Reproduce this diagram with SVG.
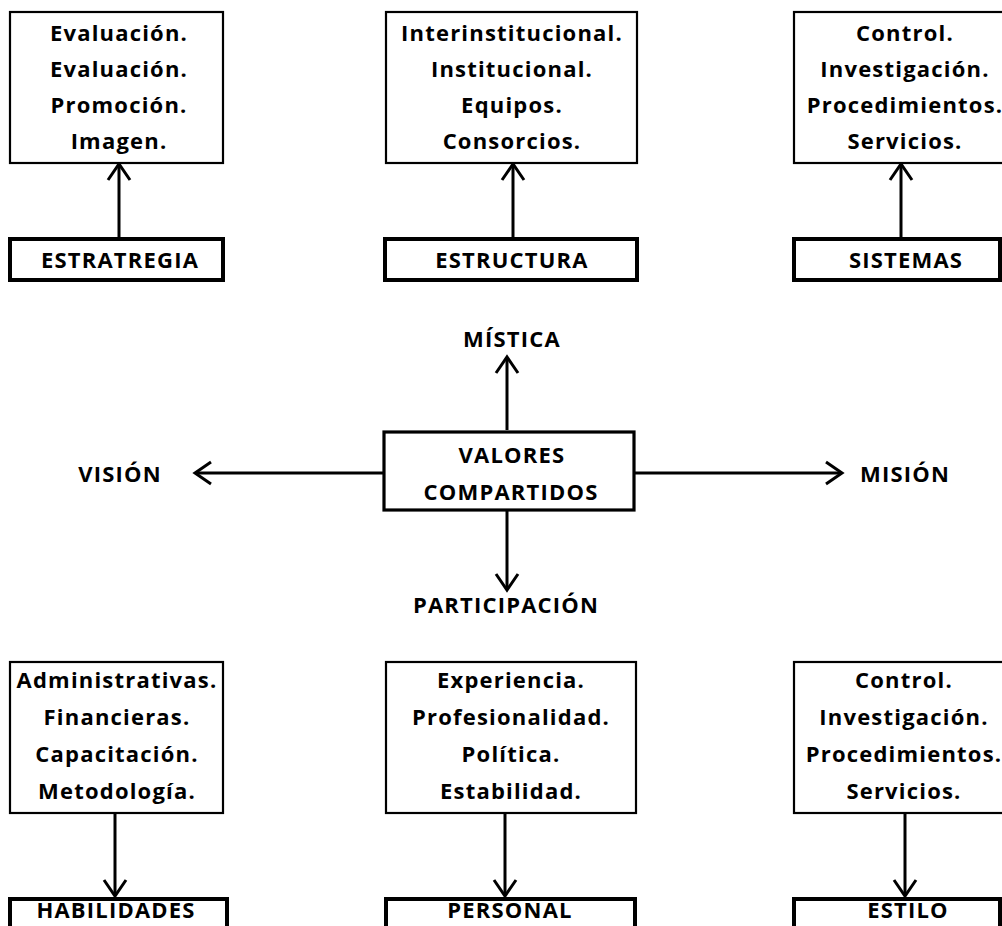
<svg xmlns="http://www.w3.org/2000/svg" width="1002" height="926" viewBox="0 0 1002 926">
<defs>
<style>
text{font-family:"Open Sans","Liberation Sans",sans-serif;font-weight:700;font-size:22px;letter-spacing:1.2px;fill:#000;text-anchor:middle}
.list{fill:#fff;stroke:#000;stroke-width:2.2}
.label{fill:#fff;stroke:#000;stroke-width:4}
.center{fill:#fff;stroke:#000;stroke-width:3.2}
.conn{stroke:#000;stroke-width:3;fill:none;marker-end:url(#arr)}
</style>
<marker id="arr" viewBox="-20 -14 22 28" refX="-2" refY="0" markerUnits="userSpaceOnUse" markerWidth="22" markerHeight="28" orient="auto">
<path d="M-17,-11 L-1,0 L-17,11" fill="none" stroke="#000" stroke-width="3"/>
</marker>
</defs>
<rect width="1002" height="926" fill="#fff"/>
<g id="connectors">
<line class="conn" x1="119" y1="237" x2="119" y2="165"/>
<line class="conn" x1="513" y1="237" x2="513" y2="165"/>
<line class="conn" x1="901" y1="237" x2="901" y2="165"/>
<line class="conn" x1="507" y1="430" x2="507" y2="358"/>
<line class="conn" x1="507" y1="511" x2="507" y2="589"/>
<line class="conn" x1="384" y1="473" x2="196" y2="473"/>
<line class="conn" x1="634" y1="473" x2="841" y2="473"/>
<line class="conn" x1="115" y1="813" x2="115" y2="895"/>
<line class="conn" x1="505" y1="813" x2="505" y2="895"/>
<line class="conn" x1="905" y1="813" x2="905" y2="895"/>
</g>
<g id="estrategia-items">
<rect class="list" x="10" y="12" width="213" height="151"/>
<text x="119" y="41">Evaluación.</text>
<text x="119" y="77">Evaluación.</text>
<text x="119" y="113">Promoción.</text>
<text x="119" y="149">Imagen.</text>
</g>
<g id="estructura-items">
<rect class="list" x="386" y="12" width="251" height="151"/>
<text x="512" y="41">Interinstitucional.</text>
<text x="512" y="77">Institucional.</text>
<text x="512" y="113">Equipos.</text>
<text x="512" y="149">Consorcios.</text>
</g>
<g id="sistemas-items">
<rect class="list" x="794" y="12" width="212" height="151"/>
<text x="905" y="41">Control.</text>
<text x="905" y="77">Investigación.</text>
<text x="905" y="113">Procedimientos.</text>
<text x="905" y="149">Servicios.</text>
</g>
<g id="estrategia">
<rect class="label" x="10" y="239" width="213" height="41"/>
<text x="120" y="268">ESTRATREGIA</text>
</g>
<g id="estructura">
<rect class="label" x="385" y="239" width="252" height="41"/>
<text x="512" y="268">ESTRUCTURA</text>
</g>
<g id="sistemas">
<rect class="label" x="794" y="239" width="206" height="41"/>
<text x="906" y="268">SISTEMAS</text>
</g>
<g id="mistica"><text x="512" y="347">MÍSTICA</text></g>
<g id="valores">
<rect class="center" x="384" y="432" width="250" height="78"/>
<text x="512" y="463">VALORES</text>
<text x="511" y="500">COMPARTIDOS</text>
</g>
<g id="vision"><text x="120" y="482">VISIÓN</text></g>
<g id="mision"><text x="905" y="482">MISIÓN</text></g>
<g id="participacion"><text x="506" y="613">PARTICIPACIÓN</text></g>
<g id="habilidades-items">
<rect class="list" x="10" y="662" width="213" height="151"/>
<text x="117" y="688">Administrativas.</text>
<text x="117" y="725">Financieras.</text>
<text x="117" y="762">Capacitación.</text>
<text x="117" y="799">Metodología.</text>
</g>
<g id="personal-items">
<rect class="list" x="386" y="662" width="250" height="151"/>
<text x="511" y="688">Experiencia.</text>
<text x="511" y="725">Profesionalidad.</text>
<text x="511" y="762">Política.</text>
<text x="511" y="799">Estabilidad.</text>
</g>
<g id="estilo-items">
<rect class="list" x="794" y="662" width="212" height="151"/>
<text x="904" y="688">Control.</text>
<text x="904" y="725">Investigación.</text>
<text x="904" y="762">Procedimientos.</text>
<text x="904" y="799">Servicios.</text>
</g>
<g id="habilidades">
<rect class="label" x="10" y="899" width="217" height="40"/>
<text x="116" y="918">HABILIDADES</text>
</g>
<g id="personal">
<rect class="label" x="386" y="899" width="249" height="40"/>
<text x="510" y="918">PERSONAL</text>
</g>
<g id="estilo">
<rect class="label" x="794" y="899" width="206" height="40"/>
<text x="908" y="918">ESTILO</text>
</g>
</svg>
